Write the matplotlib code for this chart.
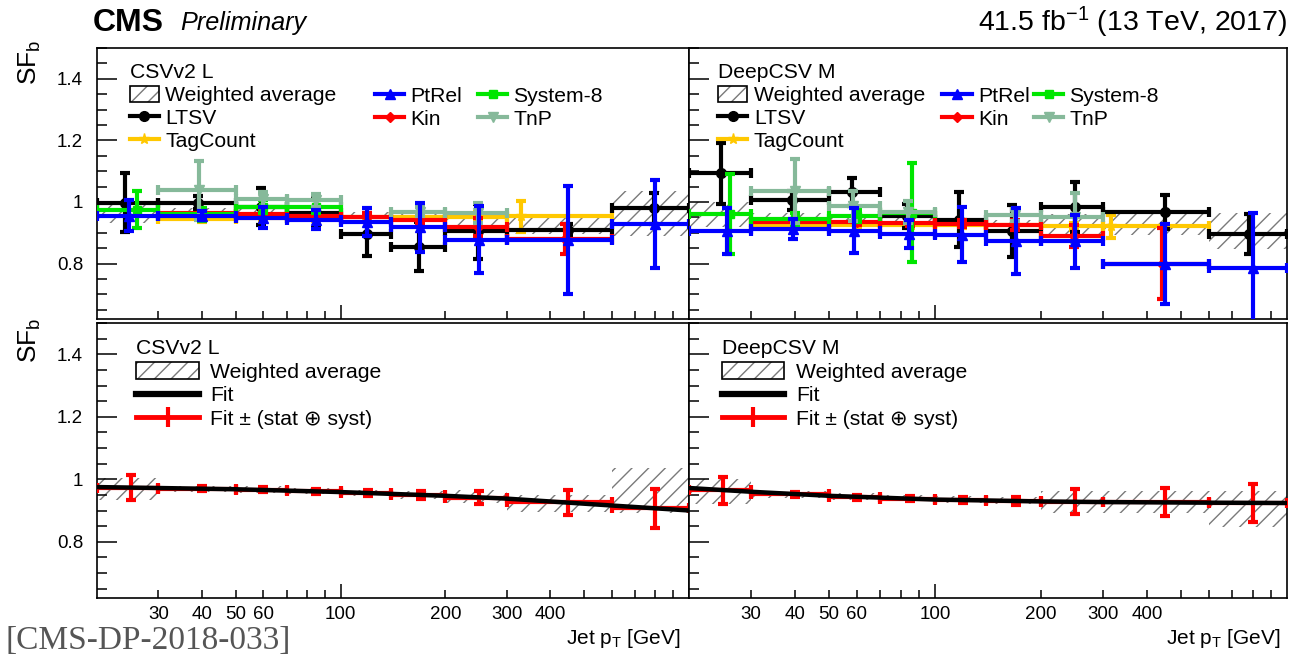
import matplotlib
matplotlib.use('Agg')
import matplotlib.pyplot as plt
from matplotlib.lines import Line2D
from matplotlib.patches import Patch
from matplotlib.legend_handler import HandlerTuple
from matplotlib.ticker import FixedLocator, MultipleLocator, FuncFormatter
import numpy as np

plt.rcParams['font.family'] = ['Liberation Sans', 'DejaVu Sans']
plt.rcParams['mathtext.fontset'] = 'custom'
plt.rcParams['mathtext.rm'] = 'Liberation Sans'
plt.rcParams['mathtext.it'] = 'Liberation Sans:italic'
plt.rcParams['hatch.linewidth'] = 1.0

# jet pT bin edges [GeV]
edges = [20, 30, 50, 70, 100, 140, 200, 300, 600, 1000]

# ---- CSVv2 L : individual measurements ----
csv_ltsv_bin = [0, 1, 2, 3, 4, 5, 6, 7, 8]
csv_ltsv_pt = [24, 39, 59, 85, 119, 168, 248, 449, 795]
csv_ltsv_sf = [0.998, 0.998, 0.985, 0.965, 0.895, 0.855, 0.905, 0.908, 0.98]
csv_ltsv_err = [0.095, 0.02, 0.06, 0.05, 0.07, 0.08, 0.09, 0.02, 0.05]

csv_ptrel_bin = [0, 1, 2, 3, 4, 5, 6, 7, 8]
csv_ptrel_pt = [24.7, 40, 60, 85, 119, 169, 250, 449, 800]
csv_ptrel_sf = [0.955, 0.955, 0.949, 0.943, 0.935, 0.918, 0.878, 0.877, 0.929]
csv_ptrel_err = [0.05, 0.015, 0.035, 0.03, 0.045, 0.08, 0.11, 0.175, 0.143]

csv_kin_bin = [1, 2, 3, 4, 5, 6, 7]
csv_kin_pt = [40, 60, 85, 119, 169, 248, 440]
csv_kin_sf = [0.965, 0.96, 0.955, 0.95, 0.943, 0.918, 0.88]
csv_kin_err = [0.01, 0.01, 0.01, 0.015, 0.015, 0.03, 0.05]

csv_s8_bin = [0, 1, 2, 3]
csv_s8_pt = [26, 40, 60, 85]
csv_s8_sf = [0.975, 0.96, 0.985, 0.985]
csv_s8_err = [0.06, 0.022, 0.02, 0.02]

csv_tnp_bin = [1, 2, 3, 5, 6]
csv_tnp_pt = [39.3, 59.8, 85, 169, 248]
csv_tnp_sf = [1.038, 1.009, 1.005, 0.968, 0.965]
csv_tnp_err = [0.095, 0.025, 0.02, 0.015, 0.032]

csv_tag_bin = [1, 2, 3, 4, 5, 6, 7]
csv_tag_pt = [40, 60, 85, 119, 169, 248, 330]
csv_tag_sf = [0.945, 0.947, 0.948, 0.95, 0.95, 0.952, 0.954]
csv_tag_err = [0.01, 0.01, 0.01, 0.01, 0.01, 0.015, 0.05]

csv_avg_sf = [0.968, 0.970, 0.967, 0.962, 0.957, 0.950, 0.945, 0.922, 0.963]
csv_avg_err = [0.035, 0.01, 0.01, 0.01, 0.01, 0.012, 0.022, 0.027, 0.072]

# ---- DeepCSV M : individual measurements ----
deep_ltsv_bin = [0, 1, 2, 3, 4, 5, 6, 7, 8]
deep_ltsv_pt = [24.7, 39.2, 58, 83.5, 117, 165, 250, 450, 780]
deep_ltsv_sf = [1.093, 1.005, 1.033, 0.955, 0.943, 0.905, 0.984, 0.967, 0.896]
deep_ltsv_err = [0.1, 0.03, 0.045, 0.04, 0.09, 0.085, 0.08, 0.055, 0.065]

deep_ptrel_bin = [0, 1, 2, 3, 4, 5, 6, 7, 8]
deep_ptrel_pt = [25.6, 39.6, 59, 84.6, 119, 170, 250, 450, 800]
deep_ptrel_sf = [0.905, 0.913, 0.907, 0.896, 0.894, 0.873, 0.872, 0.798, 0.785]
deep_ptrel_err = [0.075, 0.033, 0.074, 0.045, 0.09, 0.108, 0.085, 0.13, 0.18]

deep_kin_bin = [1, 2, 3, 4, 5, 6, 7]
deep_kin_pt = [40, 60, 85, 119, 169, 248, 440]
deep_kin_sf = [0.935, 0.935, 0.933, 0.93, 0.925, 0.89, 0.80]
deep_kin_err = [0.01, 0.01, 0.01, 0.012, 0.015, 0.035, 0.115]

deep_s8_bin = [0, 1, 2, 3]
deep_s8_pt = [26.2, 40, 60, 86]
deep_s8_sf = [0.96, 0.945, 0.954, 0.965]
deep_s8_err = [0.13, 0.02, 0.02, 0.16]

deep_tnp_bin = [1, 2, 3, 5, 6]
deep_tnp_pt = [40, 58.5, 84, 169, 250]
deep_tnp_sf = [1.036, 0.987, 0.968, 0.957, 0.95]
deep_tnp_err = [0.105, 0.05, 0.035, 0.02, 0.08]

deep_tag_bin = [1, 2, 3, 4, 5, 6, 7]
deep_tag_pt = [40, 60, 85, 119, 169, 248, 316]
deep_tag_sf = [0.925, 0.925, 0.925, 0.925, 0.925, 0.921, 0.921]
deep_tag_err = [0.01, 0.01, 0.01, 0.01, 0.01, 0.012, 0.038]

deep_avg_sf = [0.96, 0.952, 0.945, 0.94, 0.935, 0.932, 0.927, 0.927, 0.905]
deep_avg_err = [0.04, 0.012, 0.01, 0.01, 0.01, 0.01, 0.035, 0.035, 0.058]

# ---- fits ----
fit_curve_pt = [20, 30, 50, 100, 200, 300, 600, 1000]
csv_fit_curve = [0.975, 0.972, 0.968, 0.959, 0.947, 0.938, 0.916, 0.90]
deep_fit_curve = [0.972, 0.96, 0.947, 0.935, 0.929, 0.927, 0.925, 0.924]

fit_pt = [25, 40, 60, 85, 120, 170, 250, 450, 800]
csv_fit_sf = [0.973, 0.969, 0.966, 0.962, 0.956, 0.949, 0.941, 0.926, 0.907]
csv_fit_err = [0.04, 0.008, 0.008, 0.008, 0.01, 0.012, 0.02, 0.04, 0.062]
deep_fit_sf = [0.965, 0.952, 0.942, 0.937, 0.933, 0.93, 0.928, 0.926, 0.924]
deep_fit_err = [0.043, 0.008, 0.008, 0.008, 0.01, 0.012, 0.04, 0.045, 0.062]

col_ltsv = 'black'
col_ptrel = '#0000ff'
col_kin = '#ff0000'
col_s8 = '#00e600'
col_tnp = '#86b99a'
col_tag = '#ffc800'
hatch_col = '#7a7a7a'


def draw_method(ax, bins, pt, sf, err, color, marker, ms, z):
    pt = np.array(pt, dtype=float)
    lo = np.array([edges[b] for b in bins])
    hi = np.array([edges[b + 1] for b in bins])
    ax.errorbar(pt, sf, yerr=err, xerr=[pt - lo, hi - pt], fmt=marker,
                color=color, ms=ms, elinewidth=3, capsize=3.6, capthick=3,
                zorder=z)


def draw_band(ax, center, err):
    center = np.array(center)
    err = np.array(err)
    ax.bar(edges[:-1], 2 * err, bottom=center - err, width=np.diff(edges),
           align='edge', fill=False, hatch='//', edgecolor=hatch_col,
           linewidth=0, zorder=1)


def style_axes(ax, xlabels, ylabels):
    ax.set_xscale('log')
    ax.set_xlim(20, 1000)
    ax.set_ylim(0.62, 1.5)
    ax.xaxis.set_major_locator(FixedLocator([100]))
    ax.xaxis.set_minor_locator(FixedLocator([30, 40, 50, 60, 70, 80, 90, 200,
                                             300, 400, 500, 600, 700, 800, 900]))
    shown = [30, 40, 50, 60, 100, 200, 300, 400]
    fmt = FuncFormatter(lambda v, p: '%d' % round(v) if round(v) in shown else '')
    ax.xaxis.set_major_formatter(fmt)
    ax.xaxis.set_minor_formatter(fmt)
    ax.yaxis.set_major_locator(FixedLocator([0.8, 1.0, 1.2, 1.4]))
    ax.yaxis.set_minor_locator(MultipleLocator(0.05))
    ax.yaxis.set_major_formatter(FuncFormatter(lambda v, p: '%g' % v))
    ax.tick_params(which='both', direction='in', top=False, right=False,
                   width=1.1, labelsize=13.5)
    ax.tick_params(axis='x', which='major', length=10, pad=6)
    ax.tick_params(axis='x', which='minor', length=5.5, pad=6)
    ax.tick_params(axis='y', which='major', length=14.4, pad=10)
    ax.tick_params(axis='y', which='minor', length=7.2)
    ax.tick_params(axis='x', which='both', labelbottom=xlabels)
    ax.tick_params(axis='y', which='both', labelleft=ylabels)
    for s in ax.spines.values():
        s.set_linewidth(1.2)


W, H = 1289, 661
fig = plt.figure(figsize=(12.89, 6.61), dpi=100)


def px_axes(x0, x1, y0, y1):
    return fig.add_axes([x0 / W, 1 - y1 / H, (x1 - x0) / W, (y1 - y0) / H])


ax_tl = px_axes(97, 689, 48, 319)
ax_tr = px_axes(689, 1287, 48, 319)
ax_bl = px_axes(97, 689, 323, 598)
ax_br = px_axes(689, 1287, 323, 598)

top_panels = [
    (ax_tl, 'CSVv2 L', True,
     (csv_ltsv_bin, csv_ltsv_pt, csv_ltsv_sf, csv_ltsv_err),
     (csv_tag_bin, csv_tag_pt, csv_tag_sf, csv_tag_err),
     (csv_ptrel_bin, csv_ptrel_pt, csv_ptrel_sf, csv_ptrel_err),
     (csv_kin_bin, csv_kin_pt, csv_kin_sf, csv_kin_err),
     (csv_s8_bin, csv_s8_pt, csv_s8_sf, csv_s8_err),
     (csv_tnp_bin, csv_tnp_pt, csv_tnp_sf, csv_tnp_err),
     (csv_avg_sf, csv_avg_err), (0.055, 0.4696, 0.6436)),
    (ax_tr, 'DeepCSV M', False,
     (deep_ltsv_bin, deep_ltsv_pt, deep_ltsv_sf, deep_ltsv_err),
     (deep_tag_bin, deep_tag_pt, deep_tag_sf, deep_tag_err),
     (deep_ptrel_bin, deep_ptrel_pt, deep_ptrel_sf, deep_ptrel_err),
     (deep_kin_bin, deep_kin_pt, deep_kin_sf, deep_kin_err),
     (deep_s8_bin, deep_s8_pt, deep_s8_sf, deep_s8_err),
     (deep_tnp_bin, deep_tnp_pt, deep_tnp_sf, deep_tnp_err),
     (deep_avg_sf, deep_avg_err), (0.049, 0.4239, 0.5769)),
]

leg_fs = 15.2
hatch_handle = (Patch(facecolor='white', hatch='//', edgecolor=hatch_col, linewidth=0),
                Patch(fill=False, edgecolor='black', linewidth=1.2))

for (ax, tagger, ylab, ltsv, tag, ptrel, kin, s8, tnp, avg, legx) in top_panels:
    style_axes(ax, False, ylab)
    draw_band(ax, *avg)
    draw_method(ax, *tag, col_tag, '*', 8, 2)
    draw_method(ax, *ltsv, col_ltsv, 'o', 7, 3)
    draw_method(ax, *kin, col_kin, 'D', 5, 4)
    draw_method(ax, *s8, col_s8, 's', 6, 5)
    draw_method(ax, *tnp, col_tnp, 'v', 7, 6)
    draw_method(ax, *ptrel, col_ptrel, '^', 7, 7)

    h = lambda c, m, ms: Line2D([], [], color=c, lw=3, marker=m, ms=ms)
    common = dict(frameon=False, fontsize=leg_fs, handlelength=1.38,
                  handletextpad=0.3, labelspacing=0.16, borderpad=0,
                  borderaxespad=0, handleheight=0.8, loc='upper left',
                  handler_map={tuple: HandlerTuple(ndivide=1)})
    l1 = ax.legend([hatch_handle, h(col_ltsv, 'o', 7), h(col_tag, '*', 8)],
                   ['Weighted average', 'LTSV', 'TagCount'], title=tagger,
                   title_fontsize=leg_fs, alignment='left',
                   bbox_to_anchor=(legx[0], 0.943), **common)
    ax.add_artist(l1)
    l2 = ax.legend([h(col_ptrel, '^', 7), h(col_kin, 'D', 5)], ['PtRel', 'Kin'],
                   bbox_to_anchor=(legx[1], 0.858), **common)
    ax.add_artist(l2)
    ax.legend([h(col_s8, 's', 6), h(col_tnp, 'v', 7)], ['System-8', 'TnP'],
              bbox_to_anchor=(legx[2], 0.858), **common)

bottom_panels = [
    (ax_bl, 'CSVv2 L', True, csv_avg_sf, csv_avg_err, csv_fit_curve,
     csv_fit_sf, csv_fit_err, 0.0665),
    (ax_br, 'DeepCSV M', False, deep_avg_sf, deep_avg_err, deep_fit_curve,
     deep_fit_sf, deep_fit_err, 0.055),
]

for (ax, tagger, ylab, avg_sf, avg_err, curve, fsf, ferr, legx) in bottom_panels:
    style_axes(ax, True, ylab)
    draw_band(ax, avg_sf, avg_err)
    pt = np.array(fit_pt, dtype=float)
    lo = np.array(edges[:-1])
    hi = np.array(edges[1:])
    ax.errorbar(pt, fsf, yerr=ferr, xerr=[pt - lo, hi - pt], fmt='none',
                ecolor='red', elinewidth=3, capsize=3.8, capthick=3, zorder=3)
    ax.plot(fit_curve_pt, curve, color='black', lw=3.2, zorder=4)
    ax.legend([hatch_handle, Line2D([], [], color='black', lw=4.5),
               Line2D([], [], color='red', lw=3.5, marker='|', ms=14, mew=3)],
              ['Weighted average', 'Fit', 'Fit \u00b1 (stat \u2295 syst)'],
              title=tagger, title_fontsize=leg_fs, alignment='left',
              frameon=False, fontsize=leg_fs, handlelength=2.95,
              handletextpad=0.55, labelspacing=0.19, borderpad=0,
              borderaxespad=0, handleheight=0.85, loc='upper left',
              bbox_to_anchor=(legx, 0.942),
              handler_map={tuple: HandlerTuple(ndivide=1)})

# header and labels
fig.text(93 / W, 1 - 23 / H, 'CMS', weight='bold', size=23, va='center')
fig.text(180 / W, 1 - 23 / H, 'Preliminary', style='italic', size=18.2, va='center')
fig.text(1287 / W, 1 - 22 / H, r'41.5 fb$^{-1}$ (13 TeV, 2017)', ha='right',
         va='center', size=20.5)
for yc in (62, 340):
    fig.text(30 / W, 1 - yc / H, r'SF$_\mathrm{b}$', rotation=90, ha='center',
             va='center', size=19)
for xr in (681, 1281):
    fig.text(xr / W, 1 - 638 / H, r'Jet p$_\mathrm{T}$ [GeV]', ha='right',
             va='center', size=15)
fig.text(5 / W, 1 - 641 / H, '[CMS-DP-2018-033]', family='Liberation Serif',
         color='#555555', size=24, va='center')

fig.savefig('out.png', dpi=100)
